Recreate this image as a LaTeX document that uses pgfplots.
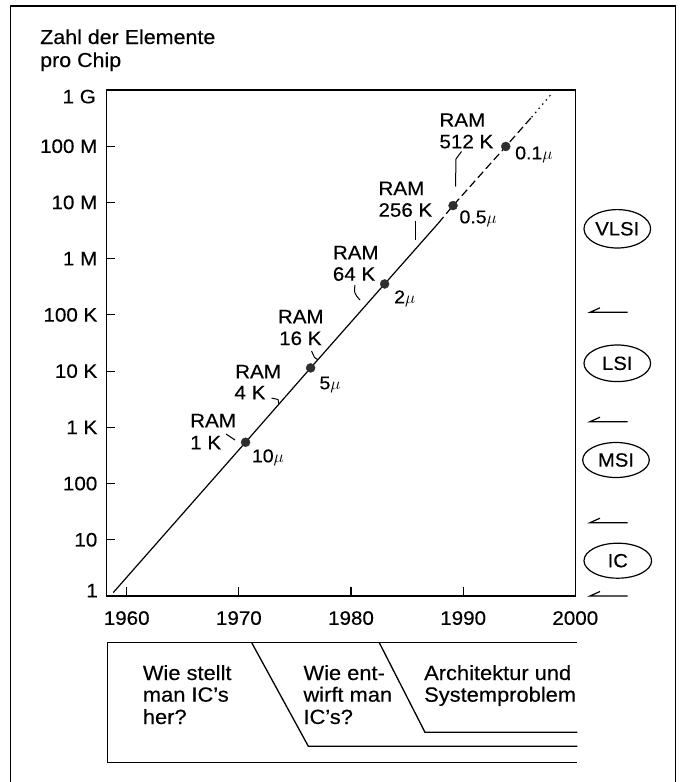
\documentclass[border=0pt]{standalone}
\usepackage{pgfplots}
\pgfplotsset{compat=1.18}
\usepackage{fontspec}
\setmainfont{Liberation Sans}[FakeStretch=1.06,FakeBold=0.3]
\newcommand{\cf}{\fontsize{19.5}{22}\selectfont}
\newcommand{\tf}{\fontsize{20.3}{23}\selectfont}
\newcommand{\bxf}{\fontsize{20.7}{23}\selectfont}
\newcommand{\muf}{\fontsize{18.5}{21}\selectfont}
\newcommand{\elf}{\fontsize{19.2}{21}\selectfont}
\newcommand{\T}[3]{\node[anchor=base west,inner sep=0pt] at (#1,#2) {#3};}
\begin{document}
\begin{tikzpicture}[font=\cf]
\useasboundingbox (0,0) rectangle (683bp,-782bp);
\begin{axis}[
  at={(106.5bp,-596bp)}, anchor=south west,
  scale only axis, width=468.8bp, height=506bp,
  xmin=1958.2, xmax=2000, ymode=log, ymin=1, ymax=1e9,
  xtick={1960,1970,1980,1990,2000},
  xticklabels={1960,1970,1980,1990,2000},
  ytick={10,100,1000,10000,100000,1000000,10000000,100000000},
  yticklabels={10,100,1 K,10 K,100 K,1 M,10 M,100 M},
  yminorticks=false, xminorticks=false,
  tick align=inside, major tick length=9bp,
  xtick pos=left, ytick pos=left,
  axis line style={line width=1.5bp},
  every tick/.style={line width=1.2bp, black},
  ticklabel style={font=\cf},
  xticklabel style={inner sep=0pt, anchor=north, yshift=-15bp},
  yticklabel style={inner sep=0pt, anchor=east, xshift=-9bp},
  clip=false,
]
\addplot[line width=1.2bp] coordinates {
  (1958.8,1.15) (1970.6,543) (1976.4,11400) (1983.0,355000) (1987.8,4300000)};
\addplot[line width=1.2bp, dash pattern=on 8bp off 4bp] coordinates {
  (1987.8,4300000) (1989.1,8800000) (1993.8,99000000) (1996.1,328000000)};
\addplot[line width=1.2bp, dash pattern=on 1.5bp off 4bp] coordinates {
  (1996.1,328000000) (1997.8,820000000)};
\addplot[only marks, mark=*, mark size=4.5bp, mark options={fill=black!82, draw=black!82}] coordinates {
  (1970.6,543) (1976.4,11400) (1983.0,355000) (1989.1,8800000) (1993.8,99000000)};
\end{axis}
\begin{scope}[x=1bp,y=-1bp]
% outer frame
\draw[line width=1.3bp] (10.8,782) -- (10.8,6) -- (675.5,6) -- (675.5,782);
% title
\begin{scope}[font=\tf]
\T{40}{44}{Zahl der Elemente}
\T{40}{67}{pro Chip}
\end{scope}
% corner tick labels
\node[anchor=base east,inner sep=0pt] at (96,103.3) {1 G};
\node[anchor=base east,inner sep=0pt] at (98,597.3) {1};
% RAM labels
\T{190}{427.3}{RAM}\T{190}{449.3}{1 K}
\T{235}{378.3}{RAM}\T{234.3}{399.3}{4 K}
\T{277.7}{323.3}{RAM}\T{279}{345}{16 K}
\T{332.7}{259.3}{RAM}\T{332.7}{280.7}{64 K}
\T{378.3}{195}{RAM}\T{378.3}{216.7}{256 K}
\T{439.3}{126.7}{RAM}\T{439.3}{148.3}{512 K}
% leader marks
\begin{scope}[line width=1bp]
\draw (226,434)--(235,440);
\draw (271.5,398)--(278,399.5)--(279,404.2);
\draw (311.5,351)--(314.5,357.5)--(317.5,359.5);
\draw (355,285) .. controls (354,293) .. (360,300);
\draw (415.5,220.5)--(415.5,240);
\draw (461.5,151.5)--(456,159)--(455.5,186.5);
\end{scope}
% mu labels
\begin{scope}[font=\muf]
\T{251.7}{462.3}{10$\mu$}
\T{319.3}{389.3}{5$\mu$}
\T{394}{303.3}{2$\mu$}
\T{459.3}{223.3}{0.5$\mu$}
\T{515}{159.3}{0.1$\mu$}
\end{scope}
% ellipses
\begin{scope}[line width=1.2bp, font=\elf]
\draw (617.3,228.8) ellipse [x radius=33.3, y radius=19.2];
\node at (617.3,228.8) {VLSI};
\draw (617.3,363.3) ellipse [x radius=33.3, y radius=18.3];
\node at (617.3,363.3) {LSI};
\draw (616,460) ellipse [x radius=33.3, y radius=17.5];
\node at (616,460) {MSI};
\draw (617.8,560.7) ellipse [x radius=33.8, y radius=17.5];
\node at (617.8,560.7) {IC};
\end{scope}
% harpoons
\begin{scope}[line width=1.2bp]
\foreach \yy in {312.3,421.7,522.7,596} {
  \draw (627.5,\yy)--(590,\yy)--(600,\yy-4.5);
}
\end{scope}
% bottom box
\begin{scope}[line width=1.3bp]
\draw (577.3,642.7)--(107.7,642.7)--(107.7,762.5)--(577.3,762.5);
\draw (251.7,642.7)--(308.3,746.2)--(577.3,746.2);
\draw (379.3,642.7)--(425,732.3)--(577.3,732.3);
\end{scope}
\begin{scope}[font=\bxf]
\T{142.7}{680}{Wie stellt}\T{142.7}{701.7}{man IC’s}\T{142.7}{724}{her?}
\T{303.3}{680}{Wie ent-}\T{303.3}{701.7}{wirft man}\T{303.3}{724}{IC’s?}
\T{424}{680}{Architektur und}\T{424}{701.7}{Systemproblem}
\end{scope}
\end{scope}
\end{tikzpicture}
\end{document}
